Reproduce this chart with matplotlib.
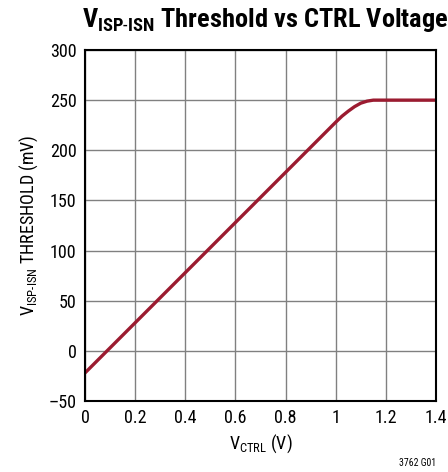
import numpy as np
import matplotlib; matplotlib.use("Agg"); import matplotlib.pyplot as plt

FONT = ['Roboto Condensed', 'Archivo Narrow', 'DejaVu Sans']
plt.rcParams['font.family'] = FONT
plt.rcParams['mathtext.fontset'] = 'custom'
plt.rcParams['mathtext.rm'] = 'Roboto Condensed'
plt.rcParams['mathtext.bf'] = 'Roboto Condensed:bold'

vctrl = [0.0, 0.1, 0.2, 0.4, 0.6, 0.8, 1.0, 1.025, 1.05, 1.075, 1.1, 1.125, 1.15, 1.2, 1.3, 1.4]
thresh = [-22, 3, 28, 78, 128, 178, 228, 234, 239, 243.5, 247, 249, 250, 250, 250, 250]
xticks = [0, 0.2, 0.4, 0.6, 0.8, 1, 1.2, 1.4]
xticklabels = ["0", "0.2", "0.4", "0.6", "0.8", "1", "1.2", "1.4"]
yticks = [-50, 0, 50, 100, 150, 200, 250, 300]
yticklabels = ["\u201350", "0", "50", "100", "150", "200", "250", "300"]

fig = plt.figure(figsize=(4.48, 4.72), dpi=100)
ax = fig.add_axes([85/448, 1-401/472, 351/448, 351/472])
ax.plot(vctrl, thresh, color="#9b1b30", lw=2.4, solid_capstyle="butt")
ax.set_xlim(0, 1.4); ax.set_ylim(-50, 300)
ax.set_xticks(xticks); ax.set_xticklabels(xticklabels)
ax.set_yticks(yticks); ax.set_yticklabels(yticklabels)
ax.tick_params(length=0, labelsize=13, pad=6, colors="black")
ax.grid(color="#808080", lw=1.0)
for s in ax.spines.values(): s.set_linewidth(1.5)
ax.set_xlabel(r"V$_{\mathrm{CTRL}}$ (V)", fontsize=13, labelpad=4)
ax.set_ylabel(r"V$_{\mathrm{ISP\text{-}ISN}}$ THRESHOLD (mV)", fontsize=13, labelpad=6)
fig.text(265/448, 1-20/472, r"$\mathbf{V_{ISP\text{-}ISN}}$ Threshold vs CTRL Voltage",
         fontsize=19, fontweight="bold", ha="center", va="center")
fig.text(436/448, 1-463/472, "3762 G01", fontsize=7, ha="right", va="center")
fig.savefig("out.png", dpi=100)
